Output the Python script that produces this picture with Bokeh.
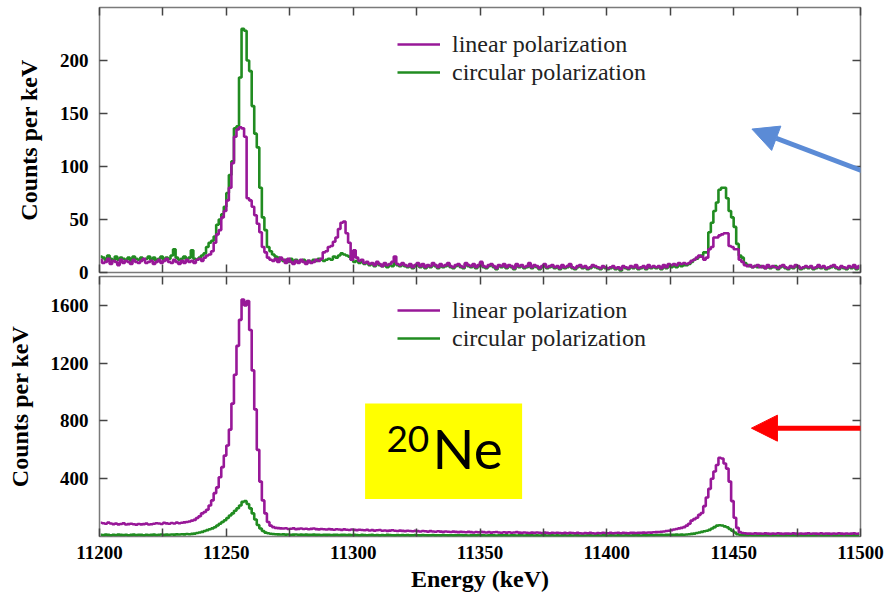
from bokeh.plotting import figure
from bokeh.models import (Range1d, LinearAxis, FixedTicker, Legend, LegendItem, Arrow,
                          NormalHead, BoxAnnotation, Label, ColumnDataSource,
                          CustomLabelingPolicy)
from bokeh.layouts import column
from bokeh.embed import file_html
from bokeh.resources import INLINE

# ---------------- data: 1 keV bins, lower edges 11200 ... 11499 ----------------
energy_kev = list(range(11200, 11500))

top_linear = [
    12, 9, 10, 13, 8, 11, 10, 7, 12, 9, 11, 10, 8, 12, 10, 9, 11, 13, 9, 10,
    11, 8, 10, 12, 9, 11, 13, 10, 9, 12, 10, 8, 11, 9, 12, 10, 11, 9, 12, 13,
    11, 14, 16, 17, 20, 28, 36, 40, 52, 58, 68, 80, 103, 128, 135, 137, 136, 128, 70, 68,
    62, 54, 46, 38, 24, 19, 14, 12, 11, 13, 10, 14, 12, 9, 13, 10, 8, 11, 9, 12,
    10, 8, 11, 9, 10, 12, 11, 13, 19, 20, 24, 25, 29, 33, 41, 47, 48, 37, 28, 12,
    21, 14, 11, 12, 9, 10, 8, 9, 7, 10, 8, 6, 9, 7, 8, 10, 15, 8, 7, 9,
    7, 6, 8, 5, 7, 9, 6, 8, 5, 7, 6, 9, 7, 5, 8, 6, 7, 9, 6, 5,
    7, 8, 6, 5, 9, 7, 6, 8, 5, 7, 10, 6, 5, 7, 8, 6, 4, 7, 6, 8,
    5, 7, 6, 4, 8, 6, 7, 5, 6, 9, 5, 7, 6, 4, 6, 8, 5, 6, 7, 5,
    6, 4, 7, 5, 6, 8, 5, 4, 6, 7, 5, 6, 4, 5, 7, 6, 5, 4, 6, 5,
    4, 5, 6, 4, 5, 3, 6, 5, 4, 6, 5, 7, 4, 5, 6, 4, 7, 5, 6, 5,
    6, 4, 7, 5, 8, 7, 8, 7, 9, 8, 9, 8, 9, 11, 12, 14, 16, 15, 12, 14,
    22, 24, 33, 33, 35, 36, 37, 37, 25, 24, 22, 22, 12, 10, 7, 6, 7, 5, 6, 7,
    5, 6, 4, 7, 5, 6, 5, 4, 6, 7, 5, 4, 6, 5, 7, 6, 4, 5, 6, 5,
    6, 4, 5, 7, 5, 6, 4, 5, 6, 7, 5, 4, 6, 5, 4, 6, 5, 7, 4, 6,
]

top_circular = [
    15, 14, 12, 16, 13, 11, 15, 12, 14, 13, 12, 14, 11, 15, 13, 12, 14, 12, 13, 15,
    12, 14, 11, 13, 15, 12, 14, 13, 16, 22, 14, 12, 13, 15, 12, 14, 21, 13, 12, 14,
    16, 18, 24, 28, 30, 34, 45, 50, 55, 62, 75, 92, 105, 136, 138, 184, 230, 228, 200, 190,
    157, 131, 118, 80, 52, 40, 24, 20, 17, 15, 14, 13, 11, 12, 10, 13, 11, 12, 10, 11,
    12, 9, 11, 10, 12, 11, 13, 12, 11, 12, 13, 12, 15, 14, 16, 18, 17, 16, 15, 12,
    10, 11, 9, 10, 8, 9, 7, 8, 6, 9, 7, 6, 8, 5, 7, 6, 9, 7, 6, 8,
    6, 5, 7, 4, 6, 8, 5, 7, 4, 6, 5, 7, 6, 4, 7, 5, 6, 8, 5, 4,
    6, 7, 5, 4, 8, 6, 5, 7, 4, 6, 9, 5, 4, 6, 7, 5, 3, 6, 5, 7,
    4, 6, 5, 3, 7, 5, 6, 4, 5, 8, 4, 6, 5, 3, 5, 7, 4, 5, 6, 4,
    5, 3, 6, 4, 5, 7, 4, 3, 5, 6, 4, 5, 3, 4, 6, 5, 4, 3, 5, 4,
    3, 4, 5, 3, 4, 2, 5, 4, 3, 5, 4, 6, 3, 4, 5, 3, 6, 4, 5, 4,
    5, 3, 6, 4, 7, 5, 6, 5, 8, 6, 7, 7, 8, 10, 12, 13, 15, 16, 19, 19,
    38, 47, 58, 66, 78, 80, 80, 70, 58, 52, 43, 27, 16, 14, 9, 7, 6, 5, 6, 5,
    6, 5, 4, 6, 4, 5, 6, 3, 5, 6, 4, 3, 5, 4, 6, 5, 3, 4, 5, 4,
    5, 3, 4, 6, 4, 5, 3, 4, 5, 6, 4, 3, 5, 4, 3, 5, 4, 6, 3, 5,
]

bottom_linear = [
    95, 92, 88, 96, 90, 86, 89, 84, 87, 91, 83, 86, 88, 85, 82, 87, 84, 86, 89, 83,
    85, 88, 92, 90, 87, 94, 91, 88, 93, 90, 96, 92, 95, 98, 100, 104, 110, 115, 128, 140,
    160, 170, 185, 215, 250, 300, 340, 410, 480, 560, 630, 740, 920, 1120, 1320, 1500, 1640, 1600, 1630, 1430,
    1150, 880, 600, 380, 250, 160, 100, 75, 65, 60, 58, 56, 55, 57, 52, 54, 56, 51, 53, 55,
    52, 54, 50, 53, 55, 51, 49, 52, 50, 48, 51, 49, 47, 50, 48, 46, 49, 47, 45, 48,
    46, 44, 47, 45, 43, 46, 42, 44, 41, 43, 45, 40, 42, 39, 41, 43, 40, 38, 41, 39,
    37, 40, 38, 36, 39, 37, 35, 38, 36, 34, 37, 35, 33, 36, 34, 32, 35, 33, 31, 34,
    32, 30, 33, 31, 29, 32, 30, 28, 31, 29, 32, 30, 28, 30, 27, 29, 31, 28, 26, 29,
    27, 29, 26, 28, 30, 27, 25, 28, 26, 24, 27, 25, 28, 26, 24, 27, 25, 23, 26, 24,
    26, 24, 22, 25, 23, 26, 24, 22, 25, 23, 21, 24, 22, 25, 23, 21, 24, 22, 26, 24,
    23, 25, 22, 24, 26, 23, 25, 24, 22, 25, 25, 24, 26, 25, 27, 26, 28, 27, 29, 30,
    31, 33, 35, 38, 40, 44, 48, 52, 56, 60, 65, 75, 88, 110, 120, 130, 150, 163, 210, 270,
    330, 400, 450, 495, 545, 540, 505, 470, 380, 245, 130, 60, 30, 24, 22, 20, 21, 19, 22, 20,
    21, 19, 22, 20, 18, 21, 19, 22, 20, 18, 21, 20, 19, 22, 20, 18, 21, 19, 20, 22,
    19, 21, 20, 18, 22, 19, 21, 20, 18, 21, 19, 22, 20, 18, 21, 19, 20, 22, 19, 21,
]

bottom_circular = [
    12, 10, 13, 11, 9, 12, 10, 13, 11, 10, 12, 9, 11, 13, 10, 12, 11, 9, 12, 10,
    11, 13, 10, 12, 14, 11, 13, 12, 14, 13, 15, 14, 16, 15, 17, 16, 18, 20, 24, 28,
    32, 38, 44, 50, 56, 64, 76, 88, 100, 112, 128, 145, 160, 178, 196, 215, 240, 245, 225, 195,
    160, 118, 80, 55, 38, 27, 22, 19, 17, 16, 15, 14, 15, 13, 14, 12, 13, 14, 12, 13,
    12, 13, 11, 12, 13, 11, 12, 10, 12, 11, 12, 10, 11, 12, 10, 11, 12, 10, 11, 10,
    11, 10, 9, 11, 10, 9, 10, 11, 9, 10, 8, 10, 9, 11, 10, 9, 8, 10, 9, 10,
    9, 10, 8, 9, 10, 9, 8, 10, 9, 8, 9, 10, 8, 9, 8, 10, 9, 8, 9, 8,
    8, 9, 10, 8, 9, 7, 8, 9, 8, 10, 8, 9, 7, 8, 9, 8, 7, 9, 8, 9,
    8, 7, 9, 8, 7, 8, 9, 7, 8, 8, 9, 7, 8, 7, 9, 8, 7, 8, 9, 7,
    8, 7, 8, 9, 7, 8, 7, 9, 8, 7, 8, 7, 9, 8, 7, 8, 8, 7, 9, 8,
    7, 8, 9, 7, 8, 8, 7, 9, 8, 7, 8, 9, 8, 7, 9, 8, 9, 10, 9, 10,
    10, 11, 10, 11, 12, 11, 12, 13, 12, 13, 12, 14, 16, 18, 20, 24, 28, 32, 36, 40,
    46, 55, 65, 75, 78, 76, 70, 64, 52, 40, 28, 16, 12, 10, 9, 8, 9, 8, 7, 8,
    8, 7, 9, 8, 7, 8, 9, 7, 8, 7, 8, 9, 7, 8, 7, 9, 8, 7, 8, 7,
    8, 7, 8, 9, 7, 8, 7, 8, 9, 7, 8, 7, 8, 9, 7, 8, 7, 8, 7, 8,
]

x_major_ticks = [11200, 11250, 11300, 11350, 11400, 11450, 11500]
x_minor_ticks = [11225, 11275, 11325, 11375, 11425, 11475]
top_y_ticks = [0, 50, 100, 150, 200]
bottom_y_ticks = [400, 800, 1200, 1600]
series_labels = ["linear polarization", "circular polarization"]

for arr in (top_linear, top_circular, bottom_linear, bottom_circular):
    assert len(arr) == len(energy_kev), len(arr)

# ---------------- style ----------------
PURPLE = "#981898"
GREEN = "#218C21"
FRAME = "#7a7a7a"
TICK = "#444444"
SERIF = "Liberation Serif"
W = 884
OVERLAP = 12

bin_centre = [e + 0.5 for e in energy_kev]
x_range = Range1d(11200, 11500)


def hidden_policy():
    return CustomLabelingPolicy(code="for (const i of indices) { indices.unset(i) }\nreturn indices")


def style(p, yticks, show_x_labels):
    p.xgrid.visible = False
    p.ygrid.visible = False
    p.outline_line_color = FRAME
    p.outline_line_width = 1.5
    xt = FixedTicker(ticks=x_major_ticks, minor_ticks=x_minor_ticks)
    yt = FixedTicker(ticks=yticks, minor_ticks=[])
    xax = p.below[0]
    yax = p.left[0]
    xax.ticker = xt
    yax.ticker = yt
    top_ax = LinearAxis(ticker=xt)
    right_ax = LinearAxis(ticker=yt)
    p.add_layout(top_ax, "above")
    p.add_layout(right_ax, "right")
    for ax in (xax, yax, top_ax, right_ax):
        ax.axis_line_color = None
        ax.major_tick_in = 8
        ax.major_tick_out = 0
        ax.minor_tick_in = 8
        ax.minor_tick_out = 0
        ax.major_tick_line_color = TICK
        ax.minor_tick_line_color = TICK
        ax.major_tick_line_width = 1.5
        ax.minor_tick_line_width = 1.5
        ax.major_label_text_font = SERIF
        ax.major_label_text_font_style = "bold"
        ax.major_label_text_font_size = "19px"
        ax.major_label_text_color = "black"
        ax.axis_label_text_font = SERIF
        ax.axis_label_text_font_style = "bold"
        ax.axis_label_text_font_size = "24px"
        ax.axis_label_text_color = "black"
    hidden = [top_ax, right_ax] + ([] if show_x_labels else [xax])
    for ax in hidden:
        ax.major_label_text_font_size = "1px"
        ax.major_label_standoff = 0
        ax.major_label_policy = hidden_policy()
    yax.major_label_standoff = 11
    yax.axis_label = "Counts per keV"
    yax.axis_label_standoff = 15
    if show_x_labels:
        xax.major_label_standoff = 9
        xax.axis_label = "Energy (keV)"
        xax.axis_label_standoff = 4


def add_series(p, lin, circ, legend_y):
    src = ColumnDataSource(dict(x=bin_centre, lin=lin, circ=circ))
    rc = p.step("x", "circ", source=src, mode="center", line_color=GREEN, line_width=2.6)
    rl = p.step("x", "lin", source=src, mode="center", line_color=PURPLE, line_width=2.6)
    leg = Legend(items=[LegendItem(label=series_labels[0], renderers=[rl]),
                        LegendItem(label=series_labels[1], renderers=[rc])],
                 location=(298, legend_y), padding=0, margin=0, spacing=0,
                 label_standoff=12, glyph_width=43, glyph_height=28, label_height=28,
                 label_text_font=SERIF, label_text_font_size="24px",
                 label_text_color="#222222", background_fill_alpha=0,
                 border_line_color=None)
    p.add_layout(leg)


# ---------------- top panel ----------------
p1 = figure(width=W, height=7 + 265 + OVERLAP, x_range=x_range, y_range=Range1d(0, 250),
            min_border_left=99, min_border_right=24, min_border_top=7,
            min_border_bottom=OVERLAP,
            output_backend="svg", toolbar_location=None)
style(p1, top_y_ticks, False)
p1.border_fill_alpha = 0
add_series(p1, top_linear, top_circular, 186)
p1.add_layout(Arrow(end=NormalHead(size=26, fill_color="#5B8BD6", line_color="#5B8BD6"),
                    x_start=11509.5, y_start=88, x_end=11457.2, y_end=135.3,
                    line_color="#5B8BD6", line_width=5))

# ---------------- bottom panel ----------------
p2 = figure(width=W, height=264 + 64, x_range=x_range, y_range=Range1d(0, 1800),
            min_border_left=99, min_border_right=24, min_border_top=0, min_border_bottom=64,
            output_backend="svg", toolbar_location=None,
            margin=(-OVERLAP, 0, 0, 0))
style(p2, bottom_y_ticks, True)
p2.background_fill_alpha = 0
p2.border_fill_alpha = 0
add_series(p2, bottom_linear, bottom_circular, 184)
p2.add_layout(Arrow(end=NormalHead(size=26, fill_color="#FF0000", line_color="#FF0000"),
                    x_start=11509.5, y_start=750, x_end=11457.0, y_end=750,
                    line_color="#FF0000", line_width=5))
p2.add_layout(BoxAnnotation(left=11304.7, right=11366.6, bottom=259, top=920,
                            fill_color="#FFFF00", fill_alpha=1.0, line_color=None))
p2.add_layout(Label(x=11313.1, y=674, text="20", text_font="Lato", text_font_size="37px",
                    text_baseline="alphabetic", text_color="black"))
p2.add_layout(Label(x=11331.3, y=614, text="Ne", text_font="Lato", text_font_size="55px",
                    text_baseline="alphabetic", text_color="black"))

layout = column(p1, p2, spacing=0)
open("out.html", "w").write(file_html(layout, INLINE))
